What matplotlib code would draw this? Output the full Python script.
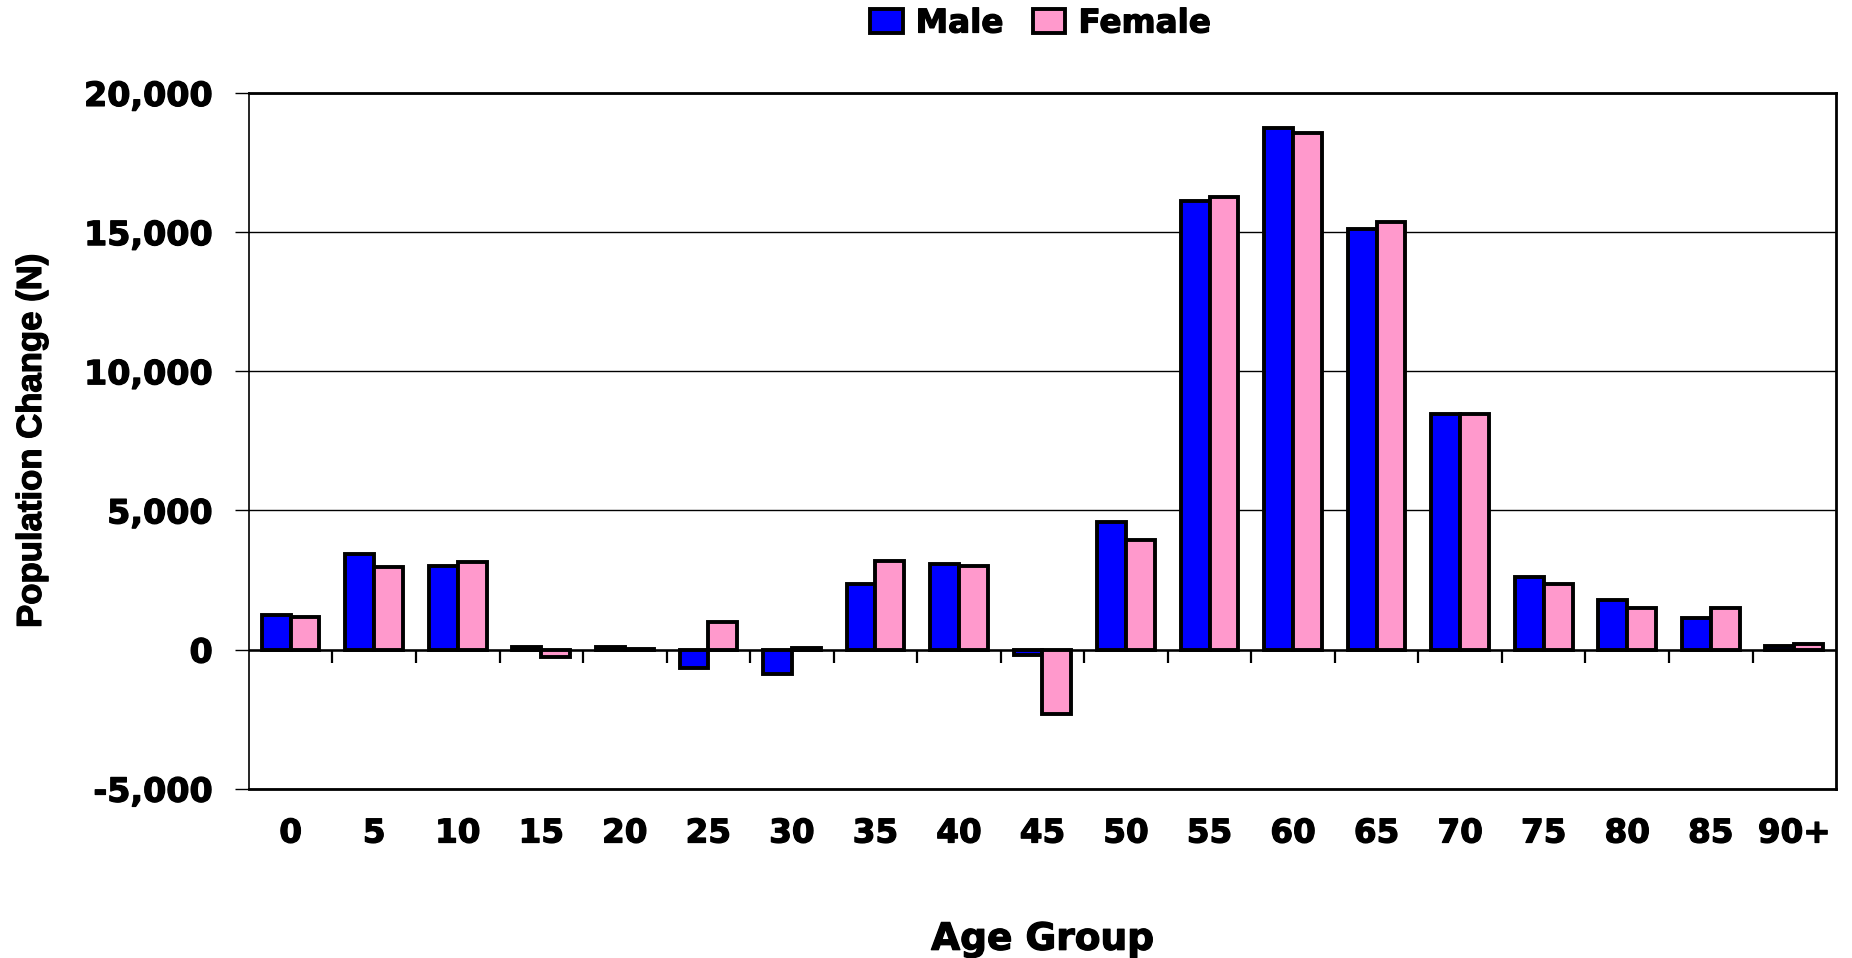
""" Population change by age group, male vs female
"""
import numpy as np
import matplotlib
matplotlib.use("Agg")
import matplotlib.pyplot as plt
import matplotlib.patheffects as pe
from matplotlib.ticker import FuncFormatter

age_groups = ['0', '5', '10', '15', '20', '25', '30', '35', '40', '45',
              '50', '55', '60', '65', '70', '75', '80', '85', '90+']
male = [1250, 3450, 3000, 100, 100, -650, -880, 2350, 3070, -200,
        4580, 16100, 18750, 15100, 8470, 2620, 1780, 1130, 130]
female = [1170, 2980, 3130, -270, 30, 980, 60, 3170, 3000, -2300,
          3950, 16250, 18550, 15380, 8470, 2350, 1490, 1490, 190]
y_ticks = [-5000, 0, 5000, 10000, 15000, 20000]

label_font = ['DejaVu Sans']
title_font = ['Liberation Sans', 'DejaVu Sans']
heavy = [pe.withStroke(linewidth=0.9, foreground='black')]

fig = plt.figure(figsize=(18.52, 9.58), dpi=100)
ax = fig.add_axes([0.1344, 0.1767, 0.8570, 0.7263])

x = np.arange(len(age_groups))
w = 0.345
ax.bar(x - w / 2, male, w, color='#0000FF', edgecolor='black',
       linewidth=2.8, label='Male', zorder=3)
ax.bar(x + w / 2, female, w, color='#FF99CC', edgecolor='black',
       linewidth=2.8, label='Female', zorder=3)

ax.set_xlim(-0.5, len(age_groups) - 0.5)
ax.set_ylim(-5000, 20000)

# gridlines + zero line with category ticks hanging below
ax.set_yticks(y_ticks)
ax.yaxis.grid(True, color='black', linewidth=1.0)
ax.set_axisbelow(True)
ax.axhline(0, color='black', linewidth=1.8, zorder=2)
bounds = x[:-1] + 0.5
ax.plot(bounds, np.zeros(len(bounds)), ls='none', marker=3,
        ms=9, mew=1.6, color='black', zorder=2)

ax.yaxis.set_major_formatter(FuncFormatter(lambda v, _: '{:,.0f}'.format(v)))
ax.tick_params(axis='y', direction='out', length=10, width=1.0, pad=16,
               labelsize=24)
ax.set_xticks(x)
ax.set_xticklabels(age_groups)
ax.tick_params(axis='x', length=0, pad=20, labelsize=23.5)
for t in ax.get_xticklabels() + ax.get_yticklabels():
    t.set_fontfamily(label_font)
    t.set_fontweight('bold')
    t.set_path_effects(heavy)

for side, lw in [('left', 1.2), ('top', 2.0), ('right', 2.0), ('bottom', 2.0)]:
    ax.spines[side].set_linewidth(lw)

ax.set_ylabel('Population Change (N)', fontsize=25, fontweight='bold',
              family=title_font, labelpad=26, path_effects=heavy)
ax.set_xlabel('Age Group', fontsize=27, fontweight='bold',
              family=label_font, labelpad=52, path_effects=heavy)

leg = fig.legend(loc='center', bbox_to_anchor=(0.5618, 0.976), ncol=2,
                 frameon=False, prop={'family': label_font, 'weight': 'bold',
                                      'size': 23.5},
                 handlelength=1.0, handleheight=0.75, handletextpad=0.4,
                 columnspacing=0.9, borderpad=0, borderaxespad=0)
for t in leg.get_texts():
    t.set_path_effects(heavy)

fig.savefig('out.png', dpi=100)
